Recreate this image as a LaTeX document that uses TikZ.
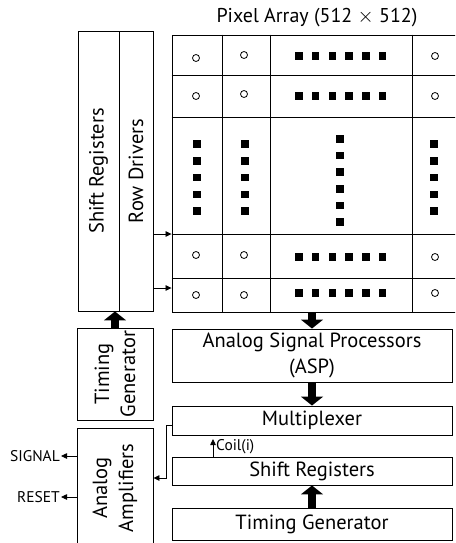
\documentclass[tikz,border=0pt]{standalone}
\usepackage{fontspec}
\setmainfont{PT Sans}
\usetikzlibrary{arrows.meta}
\begin{document}
\begin{tikzpicture}[x=1pt,y=-1pt,
  box/.style={draw, line width=0.9pt, inner sep=0pt, align=center, font=\fontsize{20.5}{26}\selectfont},
  vbox/.style={box, rotate=90},
  fat/.style={line width=8pt, -{Triangle[width=22pt,length=9pt]}},
  thinarr/.style={line width=0.8pt, -{Triangle[width=5.5pt,length=6pt]}},
  grid/.style={line width=0.9pt},
  pix/.style={circle, draw, line width=0.8pt, minimum size=7pt, inner sep=0pt},
  sq/.style={fill, minimum size=7.5pt, inner sep=0pt},
  small/.style={font=\fontsize{15.5}{17}\selectfont, inner sep=1pt},
]
\clip (0,0) rectangle (455,543);

% title
\node[font=\fontsize{20}{24}\selectfont] (title) at (317,18) {Pixel Array (512 $\times$ 512)};

% left column: shift registers and row drivers
\node[vbox, minimum width=280pt, minimum height=41pt] (shiftreg) at (98.5,171) {Shift Registers};
\node[vbox, minimum width=280pt, minimum height=34pt] (rowdrv) at (136,171) {Row Drivers};
\node[vbox, minimum width=92pt, minimum height=76pt] (tgl) at (115,374) {Timing\\Generator};
\node[vbox, minimum width=120pt, minimum height=76pt] (amp) at (115,488) {Analog\\Amplifiers};

% pixel array frame and grid
\node[draw, line width=0.9pt, minimum width=290pt, minimum height=277pt, inner sep=0pt] (arr) at (317,173.5) {};
\foreach \yy in {75,117,234,278}
  \draw[grid] (arr.west |- 0,\yy) -- (arr.east |- 0,\yy);
\foreach \xx in {222,270,412}
  \draw[grid] (arr.north -| \xx,0) -- (arr.south -| \xx,0);

% pixels in the corner rows
\foreach \yy/\ya/\yb in {58/55/56, 96/94/96, 255/255/257, 295/295/293} {
  \node[pix] at (196,\yy) {};
  \node[pix] at (244,\ya) {};
  \node[pix] at (435,\yb) {};
  \foreach \k in {0,...,5}
    \node[sq] at (299+16.7*\k,\yb) {};
}
% pixels in the middle band
\foreach \k in {0,...,4} {
  \node[sq] at (197,144+16.8*\k) {};
  \node[sq] at (245,144+16.8*\k) {};
  \node[sq] at (434,144+16.8*\k) {};
}
\foreach \k in {0,...,5}
  \node[sq] at (340,139+16.6*\k) {};

% readout chain
\node[box, minimum width=280pt, minimum height=53pt] (asp) at (312,355.5) {Analog Signal Processors\\(ASP)};
\node[box, minimum width=280pt, minimum height=29pt] (mux) at (312,420.5) {Multiplexer};
\node[box, minimum width=280pt, minimum height=28pt] (sr) at (312,471) {Shift Registers};
\node[box, minimum width=280pt, minimum height=32pt] (tg) at (312,524) {Timing Generator};

% block arrows
\draw[fat] (asp.north |- arr.south) -- (asp.north);
\draw[fat] (asp.south) -- (mux.north);
\draw[fat] (tg.north) -- (sr.south);
\draw[fat] (tgl.east) -- (tgl.east |- shiftreg.west);

% row driver outputs
\draw[thinarr] (rowdrv.south |- 0,234) -- (arr.west |- 0,234);
\draw[thinarr] (rowdrv.south |- 0,288) -- (arr.west |- 0,288);

% column select
\coordinate (coilbase) at (213,457);
\draw[thinarr] (coilbase) -- (213,439);
\node[small, anchor=west] (coil) at (215,447) {Coil(i)};

% multiplexer output to amplifiers
\draw[thinarr, line width=0.7pt] (mux.west |- 0,425) -- (166,425) |- (amp.south |- 0,478);

% amplifier outputs
\draw[thinarr] (amp.north |- 0,456) -- (61,456);
\node[small, anchor=east] (sig) at (61,456) {SIGNAL};
\draw[thinarr] (amp.north |- 0,497) -- (61,497);
\node[small, anchor=east] (rst) at (61,497) {RESET};
\end{tikzpicture}
\end{document}
